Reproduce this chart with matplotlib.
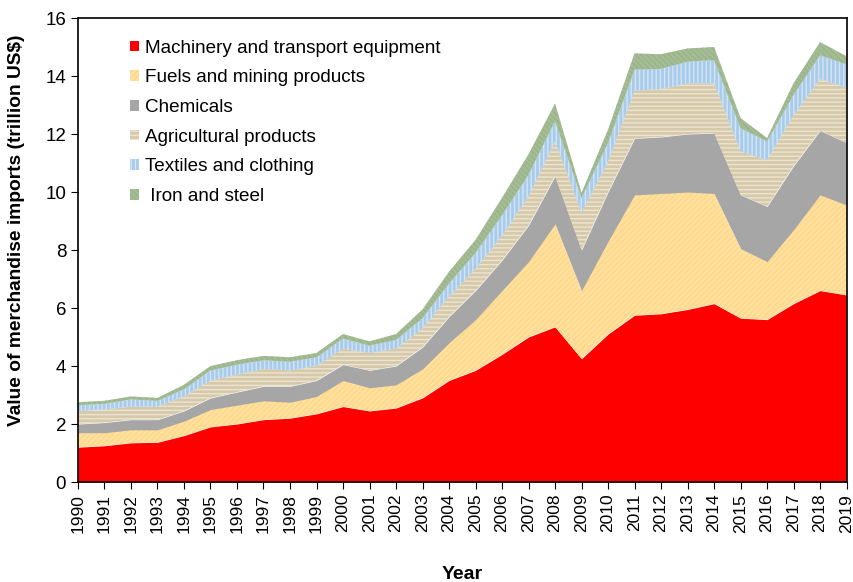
import matplotlib
matplotlib.use('Agg')
import matplotlib.pyplot as plt
import numpy as np

plt.rcParams['font.family'] = ['Liberation Sans', 'DejaVu Sans']
plt.rcParams['hatch.linewidth'] = 1.0

years = list(range(1990, 2020))

# cumulative tops (trillion US$)
top_machinery = [1.2, 1.25, 1.35, 1.37, 1.6, 1.9, 2.0, 2.15, 2.2, 2.35,
                 2.6, 2.45, 2.55, 2.9, 3.5, 3.85, 4.4, 5.0, 5.35, 4.25,
                 5.1, 5.75, 5.8, 5.95, 6.15, 5.65, 5.6, 6.15, 6.6, 6.45]
top_fuels = [1.7, 1.7, 1.8, 1.8, 2.1, 2.5, 2.65, 2.8, 2.75, 2.95,
             3.5, 3.25, 3.35, 3.9, 4.8, 5.6, 6.6, 7.6, 8.9, 6.6,
             8.3, 9.9, 9.95, 10.0, 9.95, 8.05, 7.6, 8.7, 9.9, 9.55]
top_chemicals = [2.0, 2.05, 2.15, 2.15, 2.45, 2.9, 3.1, 3.3, 3.3, 3.5,
                 4.05, 3.85, 4.0, 4.65, 5.7, 6.6, 7.65, 8.85, 10.55, 8.0,
                 10.0, 11.85, 11.9, 12.0, 12.03, 9.9, 9.5, 10.9, 12.12, 11.7]
top_agri = [2.45, 2.5, 2.6, 2.6, 2.95, 3.5, 3.7, 3.9, 3.85, 4.0,
            4.6, 4.45, 4.6, 5.3, 6.4, 7.35, 8.5, 9.85, 11.75, 9.3,
            11.05, 13.5, 13.55, 13.75, 13.75, 11.4, 11.1, 12.65, 13.9, 13.6]
top_textiles = [2.65, 2.7, 2.85, 2.8, 3.2, 3.85, 4.05, 4.2, 4.15, 4.3,
                4.95, 4.7, 4.9, 5.65, 6.85, 7.9, 9.2, 10.6, 12.45, 9.8,
                11.7, 14.22, 14.25, 14.5, 14.55, 12.2, 11.75, 13.35, 14.72, 14.4]
top_iron = [2.75, 2.8, 2.95, 2.9, 3.35, 4.0, 4.2, 4.35, 4.3, 4.45,
            5.1, 4.85, 5.1, 5.95, 7.25, 8.35, 9.8, 11.3, 13.05, 9.97,
            12.15, 14.78, 14.75, 14.95, 15.0, 12.55, 11.86, 13.75, 15.17, 14.68]

labels = ['Machinery and transport equipment', 'Fuels and mining products',
          'Chemicals', 'Agricultural products', 'Textiles and clothing',
          ' Iron and steel']

tops = [top_machinery, top_fuels, top_chemicals, top_agri, top_textiles, top_iron]
faces = ['#FF0000', '#FFD98C', '#A6A6A6', '#D6C9AA', '#A9CBEA', '#9CB68C']
hatch_colors = ['#FF0000', '#FFE4AA', '#A6A6A6', '#ECE4D2', '#D3E5F5', '#A9C09A']
hatches = [None, '//////', None, '----', '||||', '\\\\\\\\\\\\']

fig = plt.figure(figsize=(8.54, 5.82), dpi=100)
ax = fig.add_axes([0.0913, 0.1718, 0.9000, 0.7972])

bottom = np.zeros(len(years))
handles = []
for top, fc, hc, h, lab in zip(tops, faces, hatch_colors, hatches, labels):
    top = np.array(top)
    poly = ax.fill_between(years, bottom, top, facecolor=fc, edgecolor=hc,
                           hatch=h, linewidth=0, label=lab)
    handles.append(poly)
    bottom = top

ax.set_xlim(1990, 2019)
ax.set_ylim(0, 16)
ax.set_xticks(years)
ax.set_xticklabels([str(y) for y in years], rotation=90, fontsize=12.5)
ax.set_yticks(range(0, 17, 2))
ax.tick_params(axis='y', labelsize=13.5, direction='out', length=5)
ax.tick_params(axis='x', direction='out', length=5)
for s in ax.spines.values():
    s.set_linewidth(1.2)

ax.set_ylabel('Value of merchandise imports (trillion US$)', fontsize=13.8,
              fontweight='bold')
ax.yaxis.set_label_coords(-0.069, 0.543)
ax.set_xlabel('Year', fontsize=14, fontweight='bold', labelpad=24)

leg = ax.legend(handles=handles, loc='upper left', frameon=False,
                fontsize=13.6, handlelength=0.5, handleheight=0.5,
                handletextpad=0.3, labelspacing=0.67,
                bbox_to_anchor=(0.045, 0.99))

fig.savefig('out.png', dpi=100)
